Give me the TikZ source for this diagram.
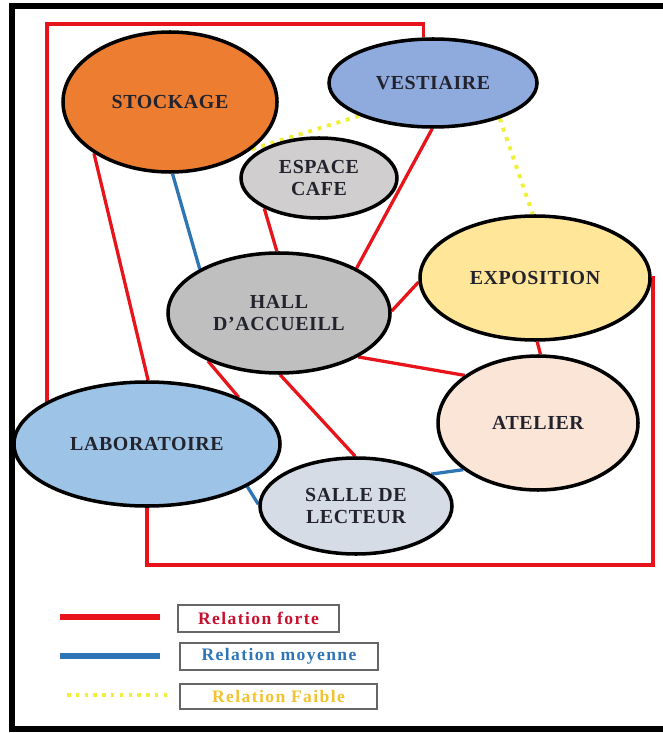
\documentclass[tikz,border=0pt]{standalone}
\usepackage{fontspec}
\setmainfont{Liberation Serif}
\newfontfamily\roomserif[LetterSpace=3]{Liberation Serif}
\newfontfamily\legserif[LetterSpace=8]{Liberation Serif}
\usetikzlibrary{shapes.geometric,backgrounds}

\definecolor{forteRed}{HTML}{E8141C}
\definecolor{moyBlue}{HTML}{2E75B6}
\definecolor{faibYellow}{HTML}{F0F03C}
\definecolor{forteText}{HTML}{C8102E}
\definecolor{faibText}{HTML}{F2C230}
\definecolor{roomText}{HTML}{23232E}
\definecolor{stockOrange}{HTML}{ED7D31}
\definecolor{vestBlue}{HTML}{8FAADC}
\definecolor{cafeGray}{HTML}{D0CECE}
\definecolor{hallGray}{HTML}{BFBFBF}
\definecolor{expoYellow}{HTML}{FFE699}
\definecolor{atelPink}{HTML}{FBE5D6}
\definecolor{laboBlue}{HTML}{9DC3E6}
\definecolor{salleGray}{HTML}{D6DCE5}

\newcommand{\px}{0.3mm}
\newcommand{\roomfont}{\roomserif\bfseries\fontsize{17}{18.5}\selectfont}
\newcommand{\legfont}{\legserif\bfseries\fontsize{15}{17}\selectfont}

\begin{document}
\begin{tikzpicture}[x=\px, y=-\px,
	room/.style={ellipse, draw=black, line width=3pt, inner sep=0pt, align=center, font=\roomfont, text=roomText},
	forte/.style={draw=forteRed, line width=2.8pt},
	moyenne/.style={draw=moyBlue, line width=2.8pt},
	faible/.style={draw=faibYellow, line width=3.4pt, dash pattern=on 3.4pt off 5pt},
	legbox/.style={draw=gray!80!black, line width=1pt, inner sep=0pt, font=\legfont}]
	\useasboundingbox (0,0) rectangle (662,733);
	\draw[line width=6*\px] (12,6.5) rectangle (700,729);

	% rooms
	\node[room, fill=stockOrange, minimum width=214*\px, minimum height=140*\px] (stock) at (170,102) {STOCKAGE};
	\node[room, fill=vestBlue, minimum width=208*\px, minimum height=88*\px] (vest) at (433,83) {VESTIAIRE};
	\node[room, fill=cafeGray, minimum width=156*\px, minimum height=80*\px] (cafe) at (319,178) {ESPACE\\CAFE};
	\node[room, fill=hallGray, minimum width=222*\px, minimum height=120*\px] (hall) at (279,313) {HALL\\D’ACCUEILL};
	\node[room, fill=expoYellow, minimum width=230*\px, minimum height=124*\px] (expo) at (535,278) {EXPOSITION};
	\node[room, fill=atelPink, minimum width=200*\px, minimum height=134*\px] (atel) at (538,423) {ATELIER};
	\node[room, fill=laboBlue, minimum width=266*\px, minimum height=124*\px] (labo) at (147,444) {LABORATOIRE};
	\node[room, fill=salleGray, minimum width=192*\px, minimum height=96*\px] (salle) at (356,506) {SALLE DE\\LECTEUR};

	\coordinate (frametl) at (47,24);
	\coordinate (framebr) at (653,565);

	% relations
	\begin{scope}[on background layer]
		\draw[forte] (stock.214) -- (labo.89);
		\draw[moyenne] (stock.272) -- (hall.151);
		\draw[forte] (cafe.209) -- (hall.92);
		\draw[faible] (stock.330) -- (vest.204);
		\draw[forte] (vest.269) -- (hall.30);
		\draw[faible] (vest.332) -- (expo.92);
		\draw[forte] (hall.1) -- (expo.182);
		\draw[forte] (hall.331) -- (atel.147);
		\draw[forte] (expo.272) -- (atel.88);
		\draw[forte] (hall.214) -- (labo.27);
		\draw[forte] (hall.271) -- (salle.91);
		\draw[moyenne] (labo.337) -- (salle.179);
		\draw[moyenne] (salle.23) -- (atel.212);
		\draw[forte] (vest.102) |- (frametl) |- (labo.158);
		\draw[forte] (labo.270) |- (framebr) |- (expo.0);
	\end{scope}

	% legend
	\draw[forte, line width=4.3pt] (60,617) -- (160,617);
	\node[legbox, text=forteText, minimum width=161*\px, minimum height=27*\px] (lforte) at (258.5,618.5) {Relation forte};
	\draw[moyenne, line width=4.3pt] (60,656) -- (160,656);
	\node[legbox, text=moyBlue, minimum width=198*\px, minimum height=27*\px] (lmoy) at (279,656.5) {Relation moyenne};
	\draw[faible, line width=3pt, dash pattern=on 3pt off 4.5pt] (67,695) -- (167,695);
	\node[legbox, text=faibText, minimum width=197*\px, minimum height=25*\px] (lfaib) at (278.5,696.5) {Relation Faible};
\end{tikzpicture}
\end{document}
